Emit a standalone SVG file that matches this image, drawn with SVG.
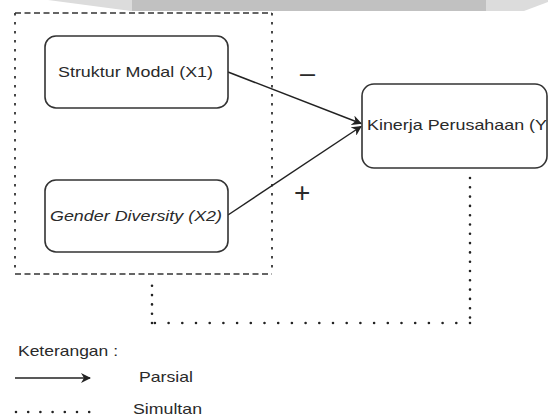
<svg xmlns="http://www.w3.org/2000/svg" width="548" height="417" viewBox="0 0 548 417">
<defs>
<style>
.box{fill:#fff;stroke:#333;stroke-width:1.6}
.lbl{font-family:"Liberation Sans",Arial,sans-serif;font-size:14.5px;fill:#2a2a2a}
.sign{font-family:"Liberation Sans",Arial,sans-serif;fill:#2a2a2a}
.edge{stroke:#222;stroke-width:1.5;fill:none}
.dotv{stroke:#222;stroke-width:2.6;stroke-linecap:round;stroke-dasharray:0 9.3;fill:none}
.doth{stroke:#222;stroke-width:2.6;stroke-linecap:round;stroke-dasharray:0 13.7;fill:none}
</style>
<marker id="ah" viewBox="0 0 10 10" refX="9" refY="5" markerWidth="10" markerHeight="10" markerUnits="userSpaceOnUse" orient="auto">
<path d="M0,0 L10,5 L0,10 L3,5 Z" fill="#222"/>
</marker>
</defs>
<rect width="548" height="417" fill="#fff"/>
<g id="band">
<polygon points="48,0 131,11 486,11 486,0" fill="#dcdcdc"/>
<rect x="132" y="0" width="354" height="11" fill="#c1c1c1"/>
<polygon points="486,0 548,0 548,2 524,11 486,11" fill="#dcdcdc"/>
</g>
<g id="group-x">
<path d="M15,13 H272 M15,274 H272" stroke="#333" stroke-width="1.5" stroke-dasharray="6 3.5" fill="none"/>
<path d="M15,13 V274 M272,13 V274" stroke="#333" stroke-width="1.8" stroke-dasharray="2.5 6.5" fill="none"/>
</g>
<g id="connectors">
<line class="edge" x1="228" y1="72" x2="361" y2="123.5" marker-end="url(#ah)"/>
<line class="edge" x1="228" y1="215" x2="361" y2="126.5" marker-end="url(#ah)"/>
<path class="dotv" d="M470,178 V323"/>
<path class="doth" d="M470,323 H152"/>
<path class="dotv" d="M152,323 V283"/>
<text class="sign" x="300" y="82" style="font-size:27px">–</text>
<text class="sign" x="294" y="202" style="font-size:28px">+</text>
</g>
<g id="node-x1">
<rect class="box" x="45" y="36" width="183" height="72" rx="11"/>
<text class="lbl" x="58" y="77" textLength="155" lengthAdjust="spacingAndGlyphs">Struktur Modal (X1)</text>
</g>
<g id="node-x2">
<rect class="box" x="45" y="180" width="183" height="72" rx="11"/>
<text class="lbl" x="50" y="221" font-style="italic" textLength="172" lengthAdjust="spacingAndGlyphs">Gender Diversity (X2)</text>
</g>
<g id="node-y">
<rect class="box" x="362" y="84" width="185" height="84" rx="12"/>
<text class="lbl" x="367" y="130" textLength="180" lengthAdjust="spacingAndGlyphs">Kinerja Perusahaan (Y</text>
</g>
<g id="legend">
<text class="lbl" x="18" y="356" textLength="100" lengthAdjust="spacingAndGlyphs">Keterangan :</text>
<line class="edge" x1="15" y1="378" x2="90" y2="378" marker-end="url(#ah)"/>
<text class="lbl" x="139" y="382" textLength="54" lengthAdjust="spacingAndGlyphs">Parsial</text>
<path stroke="#222" stroke-width="2.6" stroke-linecap="round" stroke-dasharray="0 12.2" fill="none" d="M16,412 H90"/>
<text class="lbl" x="133" y="414" textLength="69" lengthAdjust="spacingAndGlyphs">Simultan</text>
</g>
</svg>
